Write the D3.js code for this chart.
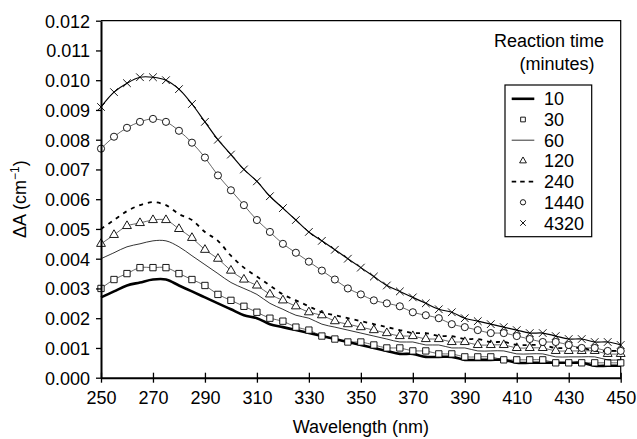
<!DOCTYPE html>
<html>
<head>
<meta charset="utf-8">
<script src="https://cdn.jsdelivr.net/npm/d3@7"></script>
<style>
  body { margin: 0; background: #fff; }
  text { font-family: "Liberation Sans", Arial, sans-serif; fill: #000; }
</style>
</head>
<body>
<div id="spectraPlot"></div>
<script>
// Wavelength grid (nm), one reading every 5 nm
const wavelengths = d3.range(250, 451, 5);

// Difference absorbance (cm^-1), per reaction time
const series10 = [0.0027, 0.0029, 0.0031, 0.0032, 0.0033, 0.0033, 0.0031, 0.0029, 0.0027, 0.0025,
  0.0023, 0.0021, 0.0020, 0.0018, 0.0017, 0.0016, 0.0015, 0.0014, 0.0013, 0.0012,
  0.0011, 0.0010, 0.0009, 0.0008, 0.0008, 0.0007, 0.0007, 0.0007, 0.0006, 0.0006,
  0.0006, 0.0006, 0.0005, 0.0005, 0.0005, 0.0005, 0.0005, 0.0005, 0.0004, 0.0004, 0.0004];
const series30 = [0.0030, 0.0033, 0.0035, 0.0037, 0.0037, 0.0037, 0.0035, 0.0033, 0.0031, 0.0028,
  0.0026, 0.0024, 0.0022, 0.0020, 0.0019, 0.0017, 0.0016, 0.0014, 0.0013, 0.0012,
  0.0012, 0.0011, 0.0010, 0.0010, 0.0009, 0.0009, 0.0008, 0.0008, 0.0007, 0.0007,
  0.0007, 0.0006, 0.0006, 0.0006, 0.0006, 0.0005, 0.0005, 0.0005, 0.0005, 0.0005, 0.0005];
const series60 = [0.0040, 0.0042, 0.0044, 0.0045, 0.0046, 0.0046, 0.0044, 0.0041, 0.0038, 0.0035,
  0.0032, 0.0030, 0.0028, 0.0025, 0.0023, 0.0021, 0.0020, 0.0018, 0.0017, 0.0016,
  0.0015, 0.0014, 0.0013, 0.0012, 0.0012, 0.0011, 0.0011, 0.0010, 0.0010, 0.0009,
  0.0009, 0.0009, 0.0008, 0.0008, 0.0008, 0.0007, 0.0007, 0.0007, 0.0007, 0.0006, 0.0006];
const series120 = [0.0045, 0.0048, 0.0051, 0.0052, 0.0053, 0.0053, 0.0050, 0.0047, 0.0043, 0.0040,
  0.0036, 0.0033, 0.0031, 0.0028, 0.0026, 0.0024, 0.0022, 0.0021, 0.0019, 0.0018,
  0.0017, 0.0016, 0.0015, 0.0014, 0.0014, 0.0013, 0.0013, 0.0012, 0.0012, 0.0011,
  0.0011, 0.0011, 0.0010, 0.0010, 0.0010, 0.0009, 0.0009, 0.0009, 0.0009, 0.0008, 0.0008];
const series240 = [0.0050, 0.0053, 0.0056, 0.0058, 0.0059, 0.0058, 0.0055, 0.0053, 0.0049, 0.0046,
  0.0041, 0.0037, 0.0034, 0.0031, 0.0028, 0.0026, 0.0024, 0.0022, 0.0021, 0.0020,
  0.0019, 0.0018, 0.0017, 0.0016, 0.0015, 0.0015, 0.0014, 0.0014, 0.0013, 0.0013,
  0.0012, 0.0012, 0.0011, 0.0011, 0.0011, 0.0010, 0.0010, 0.0010, 0.0009, 0.0009, 0.0009];
const series1440 = [0.0077, 0.0081, 0.0084, 0.0086, 0.0087, 0.0086, 0.0083, 0.0079, 0.0074, 0.0068,
  0.0063, 0.0058, 0.0053, 0.0049, 0.0045, 0.0042, 0.0039, 0.0036, 0.0033, 0.0030,
  0.0028, 0.0026, 0.0025, 0.0024, 0.0022, 0.0021, 0.0020, 0.0018, 0.0017, 0.0016,
  0.0015, 0.0015, 0.0014, 0.0013, 0.0012, 0.0012, 0.0011, 0.0010, 0.0010, 0.0009, 0.0009];
const series4320 = [0.0091, 0.0096, 0.0099, 0.0101, 0.0101, 0.0100, 0.0097, 0.0092, 0.0086, 0.0080,
  0.0075, 0.0070, 0.0066, 0.0061, 0.0057, 0.0053, 0.0049, 0.0046, 0.0043, 0.0040,
  0.0037, 0.0034, 0.0031, 0.0029, 0.0027, 0.0025, 0.0023, 0.0022, 0.0020, 0.0019,
  0.0018, 0.0017, 0.0016, 0.0015, 0.0015, 0.0014, 0.0013, 0.0013, 0.0012, 0.0012, 0.0011];

const seriesNames = ["10", "30", "60", "120", "240", "1440", "4320"];
const xTicks = [250, 270, 290, 310, 330, 350, 370, 390, 410, 430, 450];
const yTicks = [0, 0.001, 0.002, 0.003, 0.004, 0.005, 0.006, 0.007, 0.008, 0.009, 0.010, 0.011, 0.012];

function drawSpectraPlot() {
    const W = 637, H = 439;
    const margin = { top: 20.7, right: 16.3, bottom: 61.3, left: 101 };
    const width = W - margin.left - margin.right;
    const height = H - margin.top - margin.bottom;

    d3.select("#spectraPlot").selectAll("*").remove();

    const svg = d3.select("#spectraPlot").append("svg")
        .attr("width", W)
        .attr("height", H);

    const g = svg.append("g")
        .attr("transform", "translate(" + margin.left + "," + margin.top + ")");

    const x = d3.scaleLinear().domain([250, 450]).range([0, width]);
    const y = d3.scaleLinear().domain([0, 0.012]).range([height, 0]);

    // plot frame (thin top and right edges)
    g.append("path")
        .attr("d", "M0,0H" + width + "V" + height)
        .attr("fill", "none")
        .attr("stroke", "#000")
        .attr("stroke-width", 1.2);

    // series definitions
    const allSeries = [
        { name: "10", values: series10, line: { width: 2.6 } },
        { name: "30", values: series30, marker: "square" },
        { name: "60", values: series60, line: { width: 0.8 } },
        { name: "120", values: series120, marker: "triangle" },
        { name: "240", values: series240, line: { width: 1.8, dash: "4,5" } },
        { name: "1440", values: series1440, marker: "circle" },
        { name: "4320", values: series4320, marker: "times" }
    ];

    const symbolTypes = {
        square: d3.symbolSquare,
        triangle: d3.symbolTriangle,
        circle: d3.symbolCircle,
        times: d3.symbolTimes
    };

    const lineGen = d3.line()
        .x((d, i) => x(wavelengths[i]))
        .y(d => y(d))
        .curve(d3.curveCatmullRom.alpha(0.5));

    allSeries.forEach(s => {
        if (s.line) {
            g.append("path")
                .datum(s.values)
                .attr("fill", "none")
                .attr("stroke", "#000")
                .attr("stroke-width", s.line.width)
                .attr("stroke-dasharray", s.line.dash || null)
                .attr("d", lineGen);
        } else {
            // thin guide line under the markers
            g.append("path")
                .datum(s.values)
                .attr("fill", "none")
                .attr("stroke", "#000")
                .attr("stroke-width", s.marker === "times" ? 1.2 : 0.6)
                .attr("d", lineGen);

            const sizes = { square: 40, triangle: 34, circle: 40, times: 40 };
            g.selectAll(".m" + s.name)
                .data(s.values)
                .enter().append("path")
                .attr("class", "m" + s.name)
                .attr("transform", (d, i) => "translate(" + x(wavelengths[i]) + "," + y(d) + ")")
                .attr("d", d3.symbol().type(symbolTypes[s.marker]).size(sizes[s.marker]))
                .attr("fill", s.marker === "times" ? "none" : "#fff")
                .attr("stroke", "#000")
                .attr("stroke-width", 0.9);
        }
    });

    // y axis
    const yAxis = d3.axisLeft(y)
        .tickValues(yTicks)
        .tickFormat(d3.format(".3f"))
        .tickSizeInner(5)
        .tickSizeOuter(0)
        .tickPadding(6);
    const gy = g.append("g").call(yAxis);
    gy.select(".domain").attr("stroke-width", 2);
    gy.selectAll(".tick line").attr("stroke-width", 1.3);
    gy.selectAll("text")
        .style("font-size", "18px")
        .style("font-family", "'Liberation Sans', Arial, sans-serif")
        .attr("dy", "0.36em");

    // x axis with ticks crossing the line
    const xAxis = d3.axisBottom(x)
        .tickValues(xTicks)
        .tickFormat(d3.format("d"))
        .tickSizeInner(5)
        .tickSizeOuter(0);
    const gx = g.append("g")
        .attr("transform", "translate(0," + height + ")")
        .call(xAxis);
    gx.select(".domain").attr("stroke-width", 2);
    gx.selectAll(".tick line").attr("y1", -5).attr("y2", 5).attr("stroke-width", 1.3);
    gx.selectAll("text")
        .style("font-size", "18px")
        .style("font-family", "'Liberation Sans', Arial, sans-serif")
        .attr("y", 26.3)
        .attr("dy", 0);

    // axis titles
    g.append("text")
        .attr("x", width / 2)
        .attr("y", height + 55)
        .attr("text-anchor", "middle")
        .style("font-size", "18px")
        .text("Wavelength (nm)");

    const yTitle = g.append("text")
        .attr("transform", "rotate(-90)")
        .attr("x", -height / 2)
        .attr("y", -75)
        .attr("text-anchor", "middle")
        .style("font-size", "18px");
    yTitle.append("tspan").text("\u0394A (cm");
    yTitle.append("tspan").attr("dy", -7).style("font-size", "12px").text("\u22121");
    yTitle.append("tspan").attr("dy", 7).text(")");

    // legend
    const leg = svg.append("g");
    leg.append("text").attr("x", 549).attr("y", 47).attr("text-anchor", "middle")
        .style("font-size", "18px").text("Reaction time");
    leg.append("text").attr("x", 557).attr("y", 70).attr("text-anchor", "middle")
        .style("font-size", "18px").text("(minutes)");

    leg.append("rect")
        .attr("x", 505).attr("y", 85)
        .attr("width", 86.7).attr("height", 151.7)
        .attr("fill", "#fff")
        .attr("stroke", "#000")
        .attr("stroke-width", 1.2);

    const legSizes = { square: 22, triangle: 20, circle: 22, times: 22 };
    allSeries.forEach((s, i) => {
        const cy = 98.8 + i * 20.7;
        if (s.line) {
            leg.append("line")
                .attr("x1", 511.7).attr("x2", 534.3)
                .attr("y1", cy).attr("y2", cy)
                .attr("stroke", "#000")
                .attr("stroke-width", s.line.width)
                .attr("stroke-dasharray", s.line.dash ? "4.5,4" : null);
        } else {
            leg.append("path")
                .attr("transform", "translate(523," + cy + ")")
                .attr("d", d3.symbol().type(symbolTypes[s.marker]).size(legSizes[s.marker]))
                .attr("fill", s.marker === "times" ? "none" : "#fff")
                .attr("stroke", "#000")
                .attr("stroke-width", 0.9);
        }
        leg.append("text")
            .attr("x", 544)
            .attr("y", cy + 6.5)
            .style("font-size", "18px")
            .text(seriesNames[i]);
    });
}

drawSpectraPlot();
</script>
</body>
</html>
